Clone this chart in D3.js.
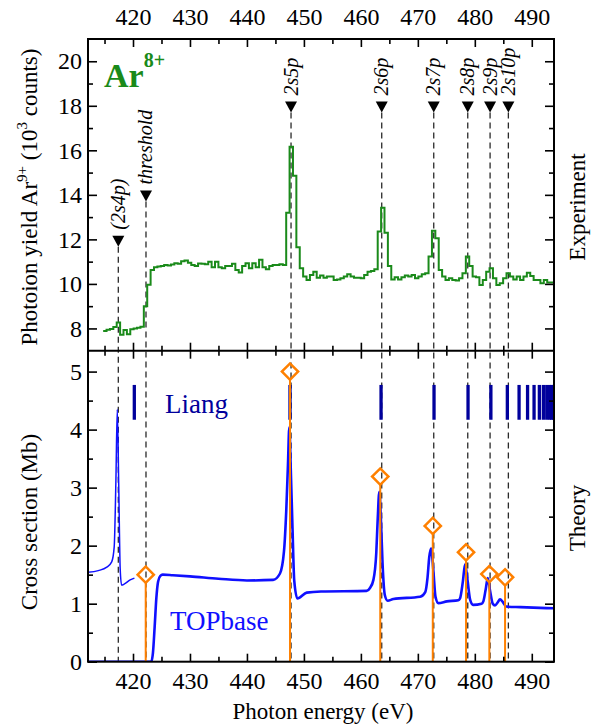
<!DOCTYPE html>
<html>
<head>
<meta charset="utf-8">
<script src="https://cdn.jsdelivr.net/npm/d3@7"></script>
<style>
body { margin: 0; background: #fff; }
svg { display: block; }
svg text { font-family: "Liberation Serif", "Times New Roman", serif; }
</style>
</head>
<body>
<svg id="chart" width="598" height="726"></svg>
<script>
// axis ticks
const energyTicks = [420, 430, 440, 450, 460, 470, 480, 490];
const energyMinor = [415, 425, 435, 445, 455, 465, 475, 485];
const yieldTicks = [8, 10, 12, 14, 16, 18, 20];
const yieldMinor = [9, 11, 13, 15, 17, 19];
const crossTicks = [0, 1, 2, 3, 4, 5];
const crossMinor = [0.5, 1.5, 2.5, 3.5, 4.5];

// experiment: Ar9+ photoion yield (10^3 counts), histogram bins
const expStart = 414.76;   // first bin edge (eV)
const expBin = 0.595;      // bin width (eV)
const expCounts = [
    7.89, 7.94, 7.97, 8.06, 8.27, 7.72, 7.93, 7.74, 7.96, 8.00,
    8.03, 8.08, 9.00, 9.96, 10.63, 10.75, 10.78, 10.80, 10.85, 10.83,
    10.87, 10.93, 10.90, 11.02, 11.05, 10.95, 10.85, 10.80, 10.92, 10.90,
    10.88, 11.00, 10.75, 11.00, 10.75, 10.70, 10.80, 10.80, 10.90, 10.63,
    10.51, 10.80, 10.93, 10.70, 10.93, 10.75, 11.08, 10.75, 10.66, 10.80,
    10.85, 10.85, 10.88, 10.85, 13.20, 16.16, 14.86, 11.65, 10.70, 10.33,
    10.18, 10.40, 10.55, 10.28, 10.38, 10.28, 10.33, 10.33, 10.18, 10.20,
    10.25, 10.33, 10.43, 10.33, 10.28, 10.28, 10.25, 10.40, 10.55, 10.58,
    10.66, 12.35, 13.42, 12.30, 10.80, 10.20, 10.30, 10.20, 10.30, 10.38,
    10.33, 10.40, 10.25, 10.33, 10.43, 10.48, 11.23, 12.39, 12.05, 10.63,
    10.33, 10.18, 10.25, 10.18, 10.15, 10.25, 10.48, 11.23, 10.80, 10.33,
    10.30, 9.95, 10.18, 10.55, 10.70, 10.25, 9.95, 10.03, 10.25, 10.48,
    10.33, 10.20, 10.33, 10.18, 10.33, 10.50, 10.36, 10.18, 10.18, 10.03,
    10.18, 10.06, 10.06
];

// resonance markers (energy in eV, marker tip in 10^3 counts)
const resLabels = ["(2s4p)", "threshold", "2s5p", "2s6p", "2s7p", "2s8p", "2s9p", "2s10p"];
const resEnergies = [417.42, 422.28, 447.74, 463.66, 472.79, 478.76, 482.68, 485.89];
const resMarkY = [11.67, 13.7, 17.7, 17.7, 17.7, 17.7, 17.7, 17.7];

// theory: TOPbase cross section (Mb)
const topbaseThin = [
    [412.1, 1.54], [413.9, 1.57], [415.4, 1.63], [416.26, 1.72], [416.7, 1.98],
    [417.0, 3.13], [417.24, 4.35], [417.5, 3.0], [417.75, 1.6], [418.0, 1.32],
    [418.5, 1.34], [419.5, 1.41], [420.25, 1.44]
];
const topbaseThick = [
    [412.1, 0.0], [423.2, 0.0], [423.5, 0.15], [423.8, 0.6], [424.1, 1.1],
    [424.4, 1.38], [424.8, 1.48], [425.2, 1.5], [427, 1.49], [430, 1.47],
    [435, 1.43], [440, 1.4], [444.6, 1.41], [445.8, 1.52], [446.5, 1.9],
    [446.9, 2.6], [447.2, 3.4], [447.44, 4.04], [447.7, 3.3], [448.0, 2.3],
    [448.3, 1.4], [448.85, 1.09], [450.5, 1.19], [453, 1.21], [461.0, 1.22],
    [461.6, 1.27], [462.2, 1.41], [462.7, 1.87], [462.95, 2.45], [463.24, 2.93],
    [463.5, 2.5], [463.8, 1.7], [464.2, 1.15], [464.7, 1.05], [465.7, 1.08],
    [470.4, 1.12], [471.3, 1.2], [471.7, 1.45], [472.0, 1.8], [472.32, 1.95],
    [472.7, 1.6], [473.1, 1.12], [473.6, 1.01], [475.1, 1.04], [477.1, 1.06],
    [477.4, 1.09], [477.9, 1.38], [478.29, 1.68], [478.7, 1.42], [479.2, 1.06],
    [479.7, 0.98], [481.2, 1.0], [481.5, 1.04], [481.9, 1.24], [482.27, 1.44],
    [482.7, 1.21], [483.15, 1.0], [483.55, 0.97], [484.0, 1.02], [484.43, 1.075],
    [484.9, 1.03], [485.5, 0.95], [488, 0.94], [493.9, 0.92]
];

// theory: Liang resonance positions (eV)
const liangLines = [420.23, 447.56, 463.54, 472.84, 478.81, 482.82, 485.71, 487.77,
    489.26, 490.40, 491.33, 492.03, 492.63, 493.12, 493.47, 493.79];

// theory: orange stick resonances (eV, Mb)
const stickEnergies = [422.23, 447.56, 463.4, 472.62, 478.46, 482.55, 485.31];
const stickHeights = [1.5, 5.0, 3.19, 2.34, 1.886, 1.51, 1.455];

// layout
const L = 88, R = 554, T = 39, M = 350.7, B = 661.7;
const svg = d3.select("#chart");

const x = d3.scaleLinear().domain([412.1, 493.9]).range([L, R]);
const yTop = d3.scaleLinear().domain([7, 21]).range([M, T]);
const yBot = d3.scaleLinear().domain([0, 5.36]).range([B, M]);

svg.append("clipPath").attr("id", "clipTop")
    .append("rect").attr("x", L).attr("y", T).attr("width", R - L).attr("height", M - T);
svg.append("clipPath").attr("id", "clipBot")
    .append("rect").attr("x", L).attr("y", M).attr("width", R - L).attr("height", B - M);

// dashed resonance lines through both panels
svg.append("g").selectAll("line")
    .data(resEnergies)
    .enter().append("line")
    .attr("x1", d => x(d)).attr("x2", d => x(d))
    .attr("y1", (d, i) => yTop(resMarkY[i]))
    .attr("y2", B)
    .attr("stroke", "#2a2a2a")
    .attr("stroke-width", 1.3)
    .attr("stroke-dasharray", "6,4");

// triangles pointing down
svg.append("g").selectAll("path")
    .data(resEnergies)
    .enter().append("path")
    .attr("transform", (d, i) => "translate(" + x(d) + "," + yTop(resMarkY[i]) + ")")
    .attr("d", "M-6,-11L6,-11L0,0Z")
    .attr("fill", "#000");

// rotated italic labels
svg.append("g").selectAll("text")
    .data(resLabels)
    .enter().append("text")
    .attr("transform", (d, i) => "translate(" + (x(resEnergies[i]) + 6.5) + "," + (yTop(resMarkY[i]) - 17) + ") rotate(-90)")
    .attr("font-size", 20)
    .attr("font-style", "italic")
    .text(d => d);

// experiment histogram
let histPts = expCounts.map((v, i) => [expStart + i * expBin, v]);
histPts.push([expStart + expCounts.length * expBin, expCounts[expCounts.length - 1]]);

svg.append("path")
    .datum(histPts)
    .attr("clip-path", "url(#clipTop)")
    .attr("fill", "none")
    .attr("stroke", "#1a8a1a")
    .attr("stroke-width", 2)
    .attr("d", d3.line().x(d => x(d[0])).y(d => yTop(d[1])).curve(d3.curveStepAfter));

// Liang bars
svg.append("g").selectAll("line")
    .data(liangLines)
    .enter().append("line")
    .attr("x1", d => x(d)).attr("x2", d => x(d))
    .attr("y1", yBot(4.17)).attr("y2", yBot(4.77))
    .attr("stroke", "#00009c")
    .attr("stroke-width", 3.3);

// TOPbase curves
let topLine = d3.line().x(d => x(d[0])).y(d => yBot(d[1])).curve(d3.curveMonotoneX);
svg.append("path")
    .datum(topbaseThin)
    .attr("clip-path", "url(#clipBot)")
    .attr("fill", "none")
    .attr("stroke", "#1010ff")
    .attr("stroke-width", 1.5)
    .attr("d", topLine);
svg.append("path")
    .datum(topbaseThick)
    .attr("clip-path", "url(#clipBot)")
    .attr("fill", "none")
    .attr("stroke", "#1010ff")
    .attr("stroke-width", 2.6)
    .attr("d", topLine);

// orange sticks + diamonds
svg.append("g").selectAll("line")
    .data(stickEnergies)
    .enter().append("line")
    .attr("x1", d => x(d)).attr("x2", d => x(d))
    .attr("y1", B)
    .attr("y2", (d, i) => yBot(stickHeights[i]) + 8)
    .attr("stroke", "#ff8000")
    .attr("stroke-width", 2);

svg.append("g").selectAll("path")
    .data(stickEnergies)
    .enter().append("path")
    .attr("transform", (d, i) => "translate(" + x(d) + "," + yBot(stickHeights[i]) + ") rotate(45)")
    .attr("d", d3.symbol(d3.symbolSquare, 132))
    .attr("fill", "none")
    .attr("stroke", "#ff8000")
    .attr("stroke-width", 2.5);

// axes
function styleAxis(g) {
    g.select(".domain").remove();
    g.attr("font-family", null).attr("font-size", null);
    g.selectAll("line").attr("stroke", "#000").attr("stroke-width", 1.6);
    g.selectAll("text").attr("font-size", 24).attr("fill", "#000");
}
function drawAxis(axisFn, pos, scale, majors, minors, majorLen, minorLen, labels, pad) {
    let g1 = svg.append("g").attr("transform", pos);
    g1.call(axisFn(scale).tickValues(minors).tickSize(minorLen).tickFormat(""));
    styleAxis(g1);
    let g2 = svg.append("g").attr("transform", pos);
    g2.call(axisFn(scale).tickValues(majors).tickSize(majorLen).tickPadding(pad)
        .tickFormat(labels ? d3.format("d") : ""));
    styleAxis(g2);
}

// energy axes: top, middle (both sides), bottom
drawAxis(d3.axisTop, "translate(0," + T + ")", x, energyTicks, energyMinor, -8, -5, true, 14);
drawAxis(d3.axisBottom, "translate(0," + M + ")", x, energyTicks, energyMinor, -8, -5, false, 0);
drawAxis(d3.axisTop, "translate(0," + M + ")", x, energyTicks, energyMinor, -8, -5, false, 0);
drawAxis(d3.axisBottom, "translate(0," + B + ")", x, energyTicks, energyMinor, -8, -5, true, 10);

// y axes
drawAxis(d3.axisLeft, "translate(" + L + ",0)", yTop, yieldTicks, yieldMinor, -9, -5, true, 6);
drawAxis(d3.axisRight, "translate(" + R + ",0)", yTop, yieldTicks, yieldMinor, -9, -5, false, 0);
drawAxis(d3.axisLeft, "translate(" + L + ",0)", yBot, crossTicks, crossMinor, -9, -5, true, 6);
drawAxis(d3.axisRight, "translate(" + R + ",0)", yBot, crossTicks, crossMinor, -9, -5, false, 0);

// frame
svg.append("rect")
    .attr("x", L).attr("y", T).attr("width", R - L).attr("height", B - T)
    .attr("fill", "none").attr("stroke", "#000").attr("stroke-width", 2);
svg.append("line")
    .attr("x1", L).attr("x2", R).attr("y1", M).attr("y2", M)
    .attr("stroke", "#000").attr("stroke-width", 2);

// titles
let yt = svg.append("text")
    .attr("transform", "translate(37,197) rotate(-90)")
    .attr("text-anchor", "middle")
    .attr("font-size", 23);
yt.append("tspan").text("Photoion yield  Ar");
yt.append("tspan").attr("font-size", 15).attr("dy", -10).text("9+");
yt.append("tspan").attr("dy", 10).text(" (10");
yt.append("tspan").attr("font-size", 15).attr("dy", -10).text("3");
yt.append("tspan").attr("dy", 10).text(" counts)");

svg.append("text")
    .attr("transform", "translate(37,522) rotate(-90)")
    .attr("text-anchor", "middle")
    .attr("font-size", 23)
    .text("Cross section (Mb)");

svg.append("text")
    .attr("x", 323).attr("y", 719)
    .attr("text-anchor", "middle")
    .attr("font-size", 23)
    .text("Photon energy (eV)");

svg.append("text")
    .attr("transform", "translate(585,207) rotate(-90)")
    .attr("text-anchor", "middle")
    .attr("font-size", 23)
    .text("Experiment");
svg.append("text")
    .attr("transform", "translate(585,518) rotate(-90)")
    .attr("text-anchor", "middle")
    .attr("font-size", 23)
    .text("Theory");

// ion label
let ion = svg.append("text")
    .attr("x", 104).attr("y", 87)
    .attr("fill", "#1a8a1a")
    .attr("font-weight", "bold")
    .attr("font-size", 34);
ion.append("tspan").text("Ar");
ion.append("tspan").attr("font-size", 20).attr("dy", -20).text("8+");

svg.append("text")
    .attr("x", 165).attr("y", 413)
    .attr("fill", "#00009c")
    .attr("font-size", 27)
    .text("Liang");
svg.append("text")
    .attr("x", 170).attr("y", 630)
    .attr("fill", "#1010ff")
    .attr("font-size", 27)
    .text("TOPbase");
</script>
</body>
</html>
